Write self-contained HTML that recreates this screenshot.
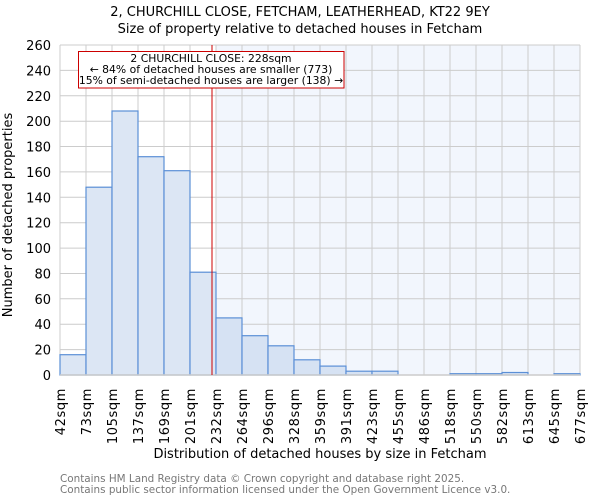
<!DOCTYPE html>
<html><head><meta charset="utf-8"><style>body{margin:0;background:#fff}svg{display:block}</style></head><body>
<svg width="600" height="500" xmlns="http://www.w3.org/2000/svg" font-family="DejaVu Sans, sans-serif">
<rect width="600" height="500" fill="#fff"/>
<text x="300" y="16" text-anchor="middle" font-size="13">2, CHURCHILL CLOSE, FETCHAM, LEATHERHEAD, KT22 9EY</text>
<text x="300" y="33" text-anchor="middle" font-size="13">Size of property relative to detached houses in Fetcham</text>
<rect x="216" y="45" width="364" height="330" fill="#f2f6fd"/>
<g stroke="#cccccc" stroke-width="1">
<line x1="60" x2="580" y1="45" y2="45"/><line x1="60" x2="580" y1="70.4" y2="70.4"/><line x1="60" x2="580" y1="95.8" y2="95.8"/><line x1="60" x2="580" y1="121.2" y2="121.2"/><line x1="60" x2="580" y1="146.5" y2="146.5"/><line x1="60" x2="580" y1="171.9" y2="171.9"/><line x1="60" x2="580" y1="197.3" y2="197.3"/><line x1="60" x2="580" y1="222.7" y2="222.7"/><line x1="60" x2="580" y1="248.1" y2="248.1"/><line x1="60" x2="580" y1="273.5" y2="273.5"/><line x1="60" x2="580" y1="298.8" y2="298.8"/><line x1="60" x2="580" y1="324.2" y2="324.2"/><line x1="60" x2="580" y1="349.6" y2="349.6"/>
<line x1="60" x2="60" y1="45" y2="375"/><line x1="86" x2="86" y1="45" y2="375"/><line x1="112" x2="112" y1="45" y2="375"/><line x1="138" x2="138" y1="45" y2="375"/><line x1="164" x2="164" y1="45" y2="375"/><line x1="190" x2="190" y1="45" y2="375"/><line x1="216" x2="216" y1="45" y2="375"/><line x1="242" x2="242" y1="45" y2="375"/><line x1="268" x2="268" y1="45" y2="375"/><line x1="294" x2="294" y1="45" y2="375"/><line x1="320" x2="320" y1="45" y2="375"/><line x1="346" x2="346" y1="45" y2="375"/><line x1="372" x2="372" y1="45" y2="375"/><line x1="398" x2="398" y1="45" y2="375"/><line x1="424" x2="424" y1="45" y2="375"/><line x1="450" x2="450" y1="45" y2="375"/><line x1="476" x2="476" y1="45" y2="375"/><line x1="502" x2="502" y1="45" y2="375"/><line x1="528" x2="528" y1="45" y2="375"/><line x1="554" x2="554" y1="45" y2="375"/><line x1="580" x2="580" y1="45" y2="375"/>
</g>
<g fill="#dce6f4" stroke="#5b8fd6" stroke-width="1.2">
<rect x="60" y="354.7" width="26" height="20.3"/>
<rect x="86" y="187.2" width="26" height="187.8"/>
<rect x="112" y="111" width="26" height="264"/>
<rect x="138" y="156.7" width="26" height="218.3"/>
<rect x="164" y="170.7" width="26" height="204.3"/>
<rect x="190" y="272.2" width="26" height="102.8"/>
<rect x="216" y="317.9" width="26" height="57.1" fill="#d6e2f3"/>
<rect x="242" y="335.7" width="26" height="39.3" fill="#d6e2f3"/>
<rect x="268" y="345.8" width="26" height="29.2" fill="#d6e2f3"/>
<rect x="294" y="359.8" width="26" height="15.2" fill="#d6e2f3"/>
<rect x="320" y="366.1" width="26" height="8.9" fill="#d6e2f3"/>
<rect x="346" y="371.2" width="26" height="3.8" fill="#d6e2f3"/>
<rect x="372" y="371.2" width="26" height="3.8" fill="#d6e2f3"/>
<rect x="450" y="373.7" width="26" height="1.3" fill="#d6e2f3"/>
<rect x="476" y="373.7" width="26" height="1.3" fill="#d6e2f3"/>
<rect x="502" y="372.5" width="26" height="2.5" fill="#d6e2f3"/>
<rect x="554" y="373.7" width="26" height="1.3" fill="#d6e2f3"/>
</g>
<line x1="60" x2="580" y1="375" y2="375" stroke="#cccccc" stroke-width="1.5"/>
<line x1="212" x2="212" y1="45" y2="375" stroke="#cc0000" stroke-width="1"/>
<rect x="78.5" y="51.5" width="265.5" height="36.5" fill="#fff" stroke="#cc0000" stroke-width="1"/>
<g font-size="10.8" text-anchor="middle"><text x="211" y="62">2 CHURCHILL CLOSE: 228sqm</text><text x="211" y="73">← 84% of detached houses are smaller (773)</text><text x="211" y="84">15% of semi-detached houses are larger (138) →</text></g>
<g font-size="13" text-anchor="end">
<text x="51" y="50">260</text><text x="51" y="75.4">240</text><text x="51" y="100.8">220</text><text x="51" y="126.2">200</text><text x="51" y="151.5">180</text><text x="51" y="176.9">160</text><text x="51" y="202.3">140</text><text x="51" y="227.7">120</text><text x="51" y="253.1">100</text><text x="51" y="278.5">80</text><text x="51" y="303.8">60</text><text x="51" y="329.2">40</text><text x="51" y="354.6">20</text><text x="51" y="380">0</text>
</g>
<text transform="translate(12,215) rotate(-90)" text-anchor="middle" font-size="13">Number of detached properties</text>
<g font-size="13" text-anchor="end" letter-spacing="0.6">
<text transform="translate(65,388) rotate(-90)">42sqm</text><text transform="translate(91,388) rotate(-90)">73sqm</text><text transform="translate(117,388) rotate(-90)">105sqm</text><text transform="translate(143,388) rotate(-90)">137sqm</text><text transform="translate(169,388) rotate(-90)">169sqm</text><text transform="translate(195,388) rotate(-90)">201sqm</text><text transform="translate(221,388) rotate(-90)">232sqm</text><text transform="translate(247,388) rotate(-90)">264sqm</text><text transform="translate(273,388) rotate(-90)">296sqm</text><text transform="translate(299,388) rotate(-90)">328sqm</text><text transform="translate(325,388) rotate(-90)">359sqm</text><text transform="translate(351,388) rotate(-90)">391sqm</text><text transform="translate(377,388) rotate(-90)">423sqm</text><text transform="translate(403,388) rotate(-90)">455sqm</text><text transform="translate(429,388) rotate(-90)">486sqm</text><text transform="translate(455,388) rotate(-90)">518sqm</text><text transform="translate(481,388) rotate(-90)">550sqm</text><text transform="translate(507,388) rotate(-90)">582sqm</text><text transform="translate(533,388) rotate(-90)">613sqm</text><text transform="translate(559,388) rotate(-90)">645sqm</text><text transform="translate(585,388) rotate(-90)">677sqm</text>
</g>
<text x="320" y="458" text-anchor="middle" font-size="13">Distribution of detached houses by size in Fetcham</text>
<g font-size="10.4" fill="#777"><text x="60" y="482">Contains HM Land Registry data © Crown copyright and database right 2025.</text><text x="60" y="493">Contains public sector information licensed under the Open Government Licence v3.0.</text></g>
</svg>
</body></html>
